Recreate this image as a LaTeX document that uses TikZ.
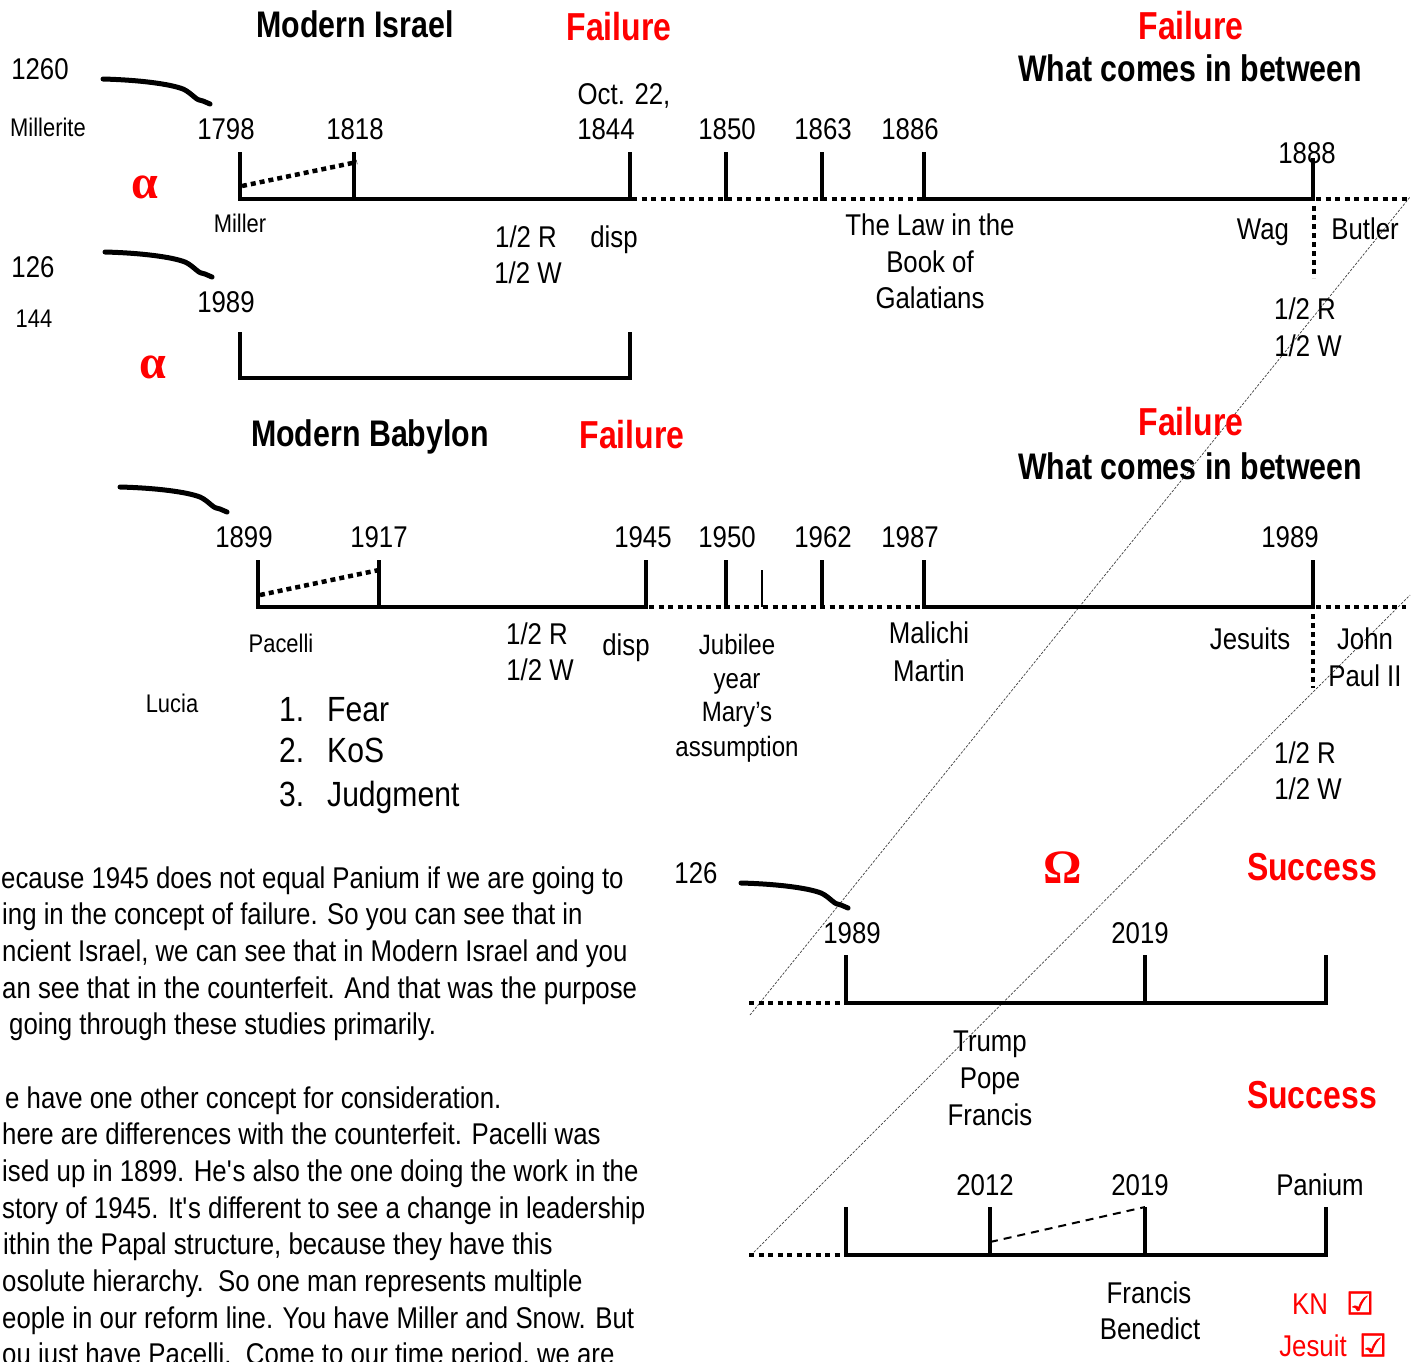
\documentclass[tikz,border=0pt]{standalone}
\usepackage{fontspec}
\setmainfont{Liberation Sans}[FakeStretch=0.86]
\newfontfamily\ttlfont{Liberation Sans}[FakeStretch=0.82]
\newfontfamily\greekserif{Liberation Serif}
\newfontfamily\chkfont{DejaVu Sans}[FakeBold=2]
\definecolor{hred}{RGB}{255,0,0}
\tikzset{
  basetxt/.style={inner sep=0pt, anchor=center},
  lbl/.style={basetxt, font=\fontsize{30}{36}\selectfont, text height=21.6pt, text depth=0pt},
  sml/.style={basetxt, font=\fontsize{25.5}{30}\selectfont, text height=18.4pt, text depth=0pt},
  jub/.style={basetxt, font=\fontsize{28}{34}\selectfont, text height=20pt, text depth=0pt},
  lst/.style={inner sep=0pt, anchor=west, font=\fontsize{35}{42}\selectfont, text height=25.2pt, text depth=0pt},
  ttl/.style={basetxt, font=\ttlfont\bfseries\fontsize{37}{44}\selectfont, text height=26.6pt, text depth=0pt},
  redttl/.style={basetxt, text=hred, font=\ttlfont\bfseries\fontsize{39}{46}\selectfont, text height=28pt, text depth=0pt},
  redlbl/.style={basetxt, text=hred, font=\fontsize{30}{37}\selectfont, text height=21.6pt, text depth=0pt},
  chk/.style={basetxt, text=hred, font=\chkfont\fontsize{31}{37}\selectfont},
  greek/.style={basetxt, text=hred, font=\greekserif\bfseries\fontsize{48}{56}\selectfont},
  body/.style={inner sep=0pt, anchor=base west, font=\fontsize{30}{36}\selectfont},
  axis/.style={line width=4.5pt},
  tickmark/.style={line width=4.5pt},
  dotline/.style={line width=4.5pt, dash pattern=on 5pt off 4.5pt},
  vdots/.style={line width=4.5pt, dash pattern=on 5pt off 4pt},
  sdots/.style={line width=4.5pt, dash pattern=on 5pt off 4pt},
  thindash/.style={line width=2pt, dash pattern=on 8pt off 6pt},
  guide/.style={line width=0.7pt, black!75, dash pattern=on 2.5pt off 1.5pt},
  hookline/.style={line width=5pt, line cap=round, line join=round},
  curvearrow/.pic={\draw[hookline] (0,0) .. controls (37,1) and (67,5) .. (80,10) .. controls (89,14) and (93,22) .. (100,22) -- (107,25);}
}
\begin{document}
\begin{tikzpicture}[x=1pt,y=-1pt]
\useasboundingbox (0,0) rectangle (1416,1361);
\fill[white] (0,0) rectangle (1416,1361);
\clip (0,0) rectangle (1416,1361);

% ---------- guide lines ----------
\draw[guide] (750,1015) -- (1410,197);
\draw[guide] (751,1255) -- (1410,595);

% ---------- Row 1: Modern Israel ----------
\node[ttl] (t1) at (355,24) {Modern Israel};
\node[redttl] (f1) at (619,26) {Failure};
\node[redttl] (f2) at (1191,25) {Failure};
\node[ttl] (w1) at (1190,68) {What comes in between};
\node[lbl] (n1260) at (40,69) {1260};
\node[sml] (mil) at (48,127) {Millerite};
\pic at (103,79) {curvearrow};
\node[lbl] (y1798) at (226,129) {1798};
\node[lbl] (y1818) at (355,129) {1818};
\node[lbl] (oct) at (624,94) {Oct. 22,};
\node[lbl] (y1844) at (606,129) {1844};
\node[lbl] (y1850) at (727,129) {1850};
\node[lbl] (y1863) at (823,129) {1863};
\node[lbl] (y1886) at (910,129) {1886};
\node[lbl] (y1888) at (1307,153) {1888};
\node[greek] (al1) at (145,187) {α};
\node[sml] (miller) at (240,223) {Miller};
\node[lbl] (hr1) at (526,237) {1/2 R};
\node[lbl] (hw1) at (528,273) {1/2 W};
\node[lbl] (disp1) at (614,237) {disp};
\node[lbl] (law1) at (930,225) {The Law in the};
\node[lbl] (law2) at (930,262) {Book of};
\node[lbl] (law3) at (930,298) {Galatians};
\node[lbl] (wag) at (1263,229) {Wag};
\node[lbl] (butler) at (1365,229) {Butler};
\node[lbl] (hr2) at (1305,309) {1/2 R};
\node[lbl] (hw2) at (1308,346) {1/2 W};

\draw[axis] (240,199) -- (630,199);
\draw[dotline] (632,199) -- (923,199);
\draw[axis] (923,199) -- (1313,199);
\draw[dotline] (1316,199) -- (1410,199);
\foreach \x in {240,354,630,726,822,924} \draw[tickmark] (\x,152) -- (\x,201);
\draw[tickmark] (1313,158) -- (1313,201);
\draw[vdots] (1314,206) -- (1314,278);
\draw[sdots] (242,186) -- (357,162);

% ---------- Row 2 ----------
\node[lbl] (n126) at (33,267) {126};
\node[sml] (n144) at (34,318) {144};
\pic at (105,252) {curvearrow};
\node[lbl] (y1989a) at (226,302) {1989};
\node[greek] (al2) at (153,367) {α};
\draw[axis] (240,332) -- (240,378) -- (630,378) -- (630,332);

% ---------- Row 3: Modern Babylon ----------
\node[ttl] (t2) at (370,433) {Modern Babylon};
\node[redttl] (f3) at (632,434) {Failure};
\node[redttl] (f4) at (1191,421) {Failure};
\node[ttl] (w2) at (1190,466) {What comes in between};
\pic at (120,487) {curvearrow};
\node[lbl] (y1899) at (244,537) {1899};
\node[lbl] (y1917) at (379,537) {1917};
\node[lbl] (y1945) at (643,537) {1945};
\node[lbl] (y1950) at (727,537) {1950};
\node[lbl] (y1962) at (823,537) {1962};
\node[lbl] (y1987) at (910,537) {1987};
\node[lbl] (y1989b) at (1290,537) {1989};
\node[sml] (pacelli) at (281,643) {Pacelli};
\node[lbl] (hr3) at (537,634) {1/2 R};
\node[lbl] (hw3) at (540,670) {1/2 W};
\node[lbl] (disp2) at (626,645) {disp};
\node[jub] (jb1) at (737,644) {Jubilee};
\node[jub] (jb2) at (737,678) {year};
\node[jub] (jb3) at (737,711) {Mary’s};
\node[jub] (jb4) at (737,746) {assumption};
\node[lbl] (mal1) at (929,633) {Malichi};
\node[lbl] (mal2) at (929,671) {Martin};
\node[lbl] (jes) at (1250,639) {Jesuits};
\node[lbl] (jp1) at (1365,639) {John};
\node[lbl] (jp2) at (1365,676) {Paul II};
\node[lbl] (hr4) at (1305,753) {1/2 R};
\node[lbl] (hw4) at (1308,789) {1/2 W};
\node[sml] (lucia) at (172,703) {Lucia};
\node[lst] (l1n) at (279,709) {1.};
\node[lst] (l1t) at (327,709) {Fear};
\node[lst] (l2n) at (279,750) {2.};
\node[lst] (l2t) at (327,750) {KoS};
\node[lst] (l3n) at (279,794) {3.};
\node[lst] (l3t) at (327,794) {Judgment};

\draw[axis] (258,607) -- (646,607);
\draw[dotline] (649,607) -- (924,607);
\draw[axis] (924,607) -- (1313,607);
\draw[dotline] (1316,607) -- (1406,607);
\foreach \x in {258,379,646,726,822,924,1313} \draw[tickmark] (\x,560) -- (\x,609);
\draw[line width=1.5pt] (762,570) -- (762,607);
\draw[vdots] (1313,614) -- (1313,688);
\draw[sdots] (260,595) -- (379,570);

% ---------- Row 4 ----------
\node[lbl] (n126b) at (696,873) {126};
\pic at (741,883) {curvearrow};
\node[greek] (om) at (1063,868) {Ω};
\node[redttl] (s1) at (1312,866) {Success};
\node[lbl] (y1989c) at (852,933) {1989};
\node[lbl] (y2019a) at (1140,933) {2019};
\node[lbl] (tr1) at (990,1041) {Trump};
\node[lbl] (tr2) at (990,1078) {Pope};
\node[lbl] (tr3) at (990,1115) {Francis};
\draw[dotline] (749,1003) -- (846,1003);
\draw[axis] (846,1003) -- (1326,1003);
\foreach \x in {846,1145,1326} \draw[tickmark] (\x,955) -- (\x,1005);

% ---------- Row 5 ----------
\node[redttl] (s2) at (1312,1094) {Success};
\node[lbl] (y2012) at (985,1185) {2012};
\node[lbl] (y2019b) at (1140,1185) {2019};
\node[lbl] (panium) at (1320,1185) {Panium};
\node[lbl] (fb1) at (1149,1293) {Francis};
\node[lbl] (fb2) at (1150,1329) {Benedict};
\node[redlbl] (kn) at (1310,1304) {KN};
\node[chk] (kc) at (1360,1303) {☑};
\node[redlbl] (jsu) at (1313,1346) {Jesuit};
\node[chk] (jc) at (1373,1345) {☑};
\draw[dotline] (749,1255) -- (846,1255);
\draw[axis] (846,1255) -- (1326,1255);
\foreach \x in {846,990,1145,1326} \draw[tickmark] (\x,1207) -- (\x,1257);
\draw[thindash] (990,1242) -- (1145,1207);

% ---------- body text ----------
\node[body] (b1) at (1,888) {ecause 1945 does not equal Panium if we are going to};
\node[body] (b2) at (2,924.7) {ing in the concept of failure. So you can see that in};
\node[body] (b3) at (2,961.3) {ncient Israel, we can see that in Modern Israel and you};
\node[body] (b4) at (2,998) {an see that in the counterfeit. And that was the purpose};
\node[body] (b5) at (9,1034.7) {going through these studies primarily.};
\node[body] (b6) at (5,1108) {e have one other concept for consideration.};
\node[body] (b7) at (2,1144.7) {here are differences with the counterfeit. Pacelli was};
\node[body] (b8) at (2,1181.3) {ised up in 1899. He\textquotesingle s also the one doing the work in the};
\node[body] (b9) at (2,1218) {story of 1945. It\textquotesingle s different to see a change in leadership};
\node[body] (b10) at (3,1254.7) {ithin the Papal structure, because they have this};
\node[body] (b11) at (2,1291.3) {osolute hierarchy.\ \ So one man represents multiple};
\node[body] (b12) at (2,1328) {eople in our reform line. You have Miller and Snow. But};
\node[body] (b13) at (2,1364.7) {ou just have Pacelli.\ \ Come to our time period, we are};
\end{tikzpicture}
\end{document}
